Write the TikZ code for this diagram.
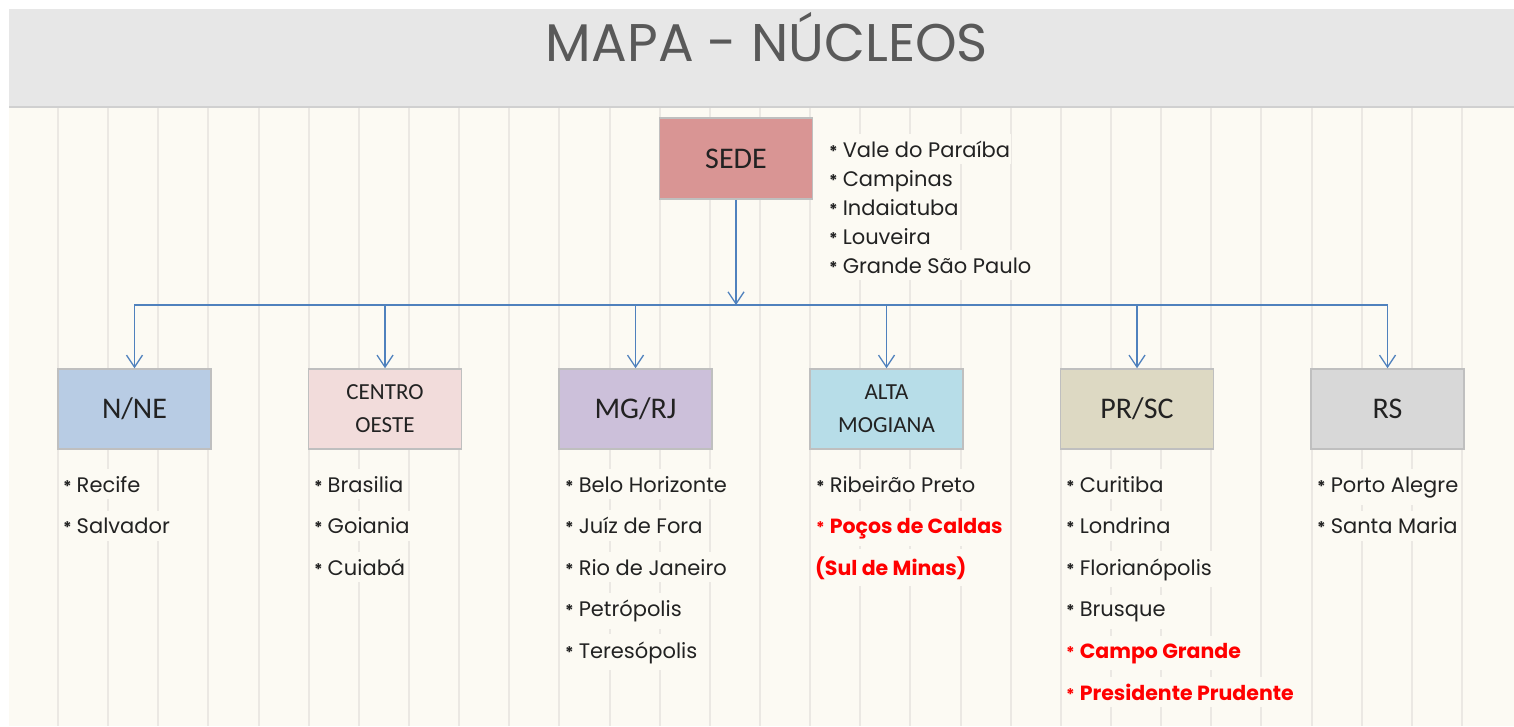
\documentclass[tikz,border=0pt]{standalone}
\usepackage{fontspec}
\setmainfont{Poppins}
\newfontfamily\calibri{Carlito}
\usetikzlibrary{arrows.meta, positioning}
\definecolor{bgcream}{HTML}{FCFAF3}
\definecolor{bargray}{HTML}{E7E7E7}
\definecolor{barline}{HTML}{D0D0D0}
\definecolor{gridgray}{HTML}{EBE8E3}
\definecolor{titlegray}{HTML}{595959}
\definecolor{textdark}{HTML}{222222}
\definecolor{hotred}{HTML}{FF0000}
\definecolor{linkblue}{HTML}{4F81BD}
\definecolor{boxborder}{HTML}{BFBFBF}
\definecolor{sedefill}{HTML}{D99594}
\definecolor{nnefill}{HTML}{B8CCE4}
\definecolor{cofill}{HTML}{F2DCDB}
\definecolor{mgfill}{HTML}{CCC0DA}
\definecolor{altafill}{HTML}{B7DDE8}
\definecolor{prfill}{HTML}{DDD9C3}
\definecolor{rsfill}{HTML}{D8D8D8}
\newcommand\bulletmark{{\fontsize{16}{16}\selectfont\bfseries *}\hspace{5pt}}

\begin{document}
\begin{tikzpicture}[x=1pt, y=-1pt,
    gridline/.style={draw=gridgray, line width=2pt},
    hub/.style={rectangle, draw=boxborder, line width=1.5pt, minimum width=153pt, minimum height=80pt, align=center, text=textdark, font=\calibri\fontsize{30}{30}\selectfont},
    hubsmall/.style={hub, font=\calibri\fontsize{23}{33}\selectfont},
    conn/.style={draw=linkblue, line width=1.3pt, -{Straight Barb[length=12pt, width=16pt, line width=1.3pt]}},
    city/.style={anchor=base west, fill=bgcream, inner xsep=1pt, inner ysep=7pt, text=textdark, font=\fontsize{21}{21}\selectfont},
    hot/.style={city, text=hotred, font=\fontsize{20.5}{20.5}\selectfont\bfseries}]
    \useasboundingbox (0,0) rectangle (1514,726);

    % Background
    \fill[white] (0,0) rectangle (1514,726);
    \fill[bgcream] (9,107) rectangle (1514,726);
    \foreach \i in {0,...,28}
        \draw[gridline] ({58+50.14*\i},108) -- ({58+50.14*\i},726);
    \fill[bargray] (9,9) rectangle (1514,106);
    \draw[barline, line width=2pt] (9,107) -- (1514,107);

    % Title
    \node (title) [font=\fontsize{53}{53}\selectfont, text=titlegray, anchor=base] at (767,61) {MAPA - NÚCLEOS};

    % Boxes
    \node (sede) [hub, fill=sedefill, minimum height=81pt] at (736,158.5) {SEDE};
    \node (nne) [hub, fill=nnefill] at (134.5,409) {N/NE};
    \node (co) [hubsmall, fill=cofill] at (385,409) {CENTRO\\OESTE};
    \node (mgrj) [hub, fill=mgfill] at (635.5,409) {MG/RJ};
    \node (alta) [hubsmall, fill=altafill] at (886.5,409) {ALTA\\MOGIANA};
    \node (prsc) [hub, fill=prfill] at (1137,409) {PR/SC};
    \node (rs) [hub, fill=rsfill] at (1387.5,409) {RS};

    % Connectors
    \coordinate (bus) at (736,305);
    \draw[conn] (sede) -- (bus);
    \draw[conn] (bus) -| (nne);
    \draw[conn] (bus) -| (co);
    \draw[conn] (bus) -| (mgrj);
    \draw[conn] (bus) -| (alta);
    \draw[conn] (bus) -| (prsc);
    \draw[conn] (bus) -| (rs);

    % SEDE list
    \node (s1) [city] at (828,157) {\bulletmark Vale do Paraíba};
    \node (s2) [city] at (828,186) {\bulletmark Campinas};
    \node (s3) [city] at (828,215) {\bulletmark Indaiatuba};
    \node (s4) [city] at (828,244) {\bulletmark Louveira};
    \node (s5) [city] at (828,273) {\bulletmark Grande São Paulo};

    % N/NE
    \node (n1) [city] at (62,492) {\bulletmark Recife};
    \node (n2) [city] at (62,533.5) {\bulletmark Salvador};

    % Centro Oeste
    \node (c1) [city] at (313,492) {\bulletmark Brasilia};
    \node (c2) [city] at (313,533.5) {\bulletmark Goiania};
    \node (c3) [city] at (313,575) {\bulletmark Cuiabá};

    % MG/RJ
    \node (m1) [city] at (564,492) {\bulletmark Belo Horizonte};
    \node (m2) [city] at (564,533.5) {\bulletmark Juíz de Fora};
    \node (m3) [city] at (564,575) {\bulletmark Rio de Janeiro};
    \node (m4) [city] at (564,616.5) {\bulletmark Petrópolis};
    \node (m5) [city] at (564,658) {\bulletmark Teresópolis};

    % Alta Mogiana
    \node (a1) [city] at (815,492) {\bulletmark Ribeirão Preto};
    \node (a2) [hot] at (815,533.5) {{\mdseries\bulletmark}Poços de Caldas};
    \node (a3) [hot] at (814,575) {(Sul de Minas)};

    % PR/SC
    \node (p1) [city] at (1065,492) {\bulletmark Curitiba};
    \node (p2) [city] at (1065,533.5) {\bulletmark Londrina};
    \node (p3) [city] at (1065,575) {\bulletmark Florianópolis};
    \node (p4) [city] at (1065,616.5) {\bulletmark Brusque};
    \node (p5) [hot] at (1065,658) {{\mdseries\bulletmark}Campo Grande};
    \node (p6) [hot] at (1065,700) {{\mdseries\bulletmark}Presidente Prudente};

    % RS
    \node (r1) [city] at (1316,492) {\bulletmark Porto Alegre};
    \node (r2) [city] at (1316,533.5) {\bulletmark Santa Maria};
\end{tikzpicture}
\end{document}
